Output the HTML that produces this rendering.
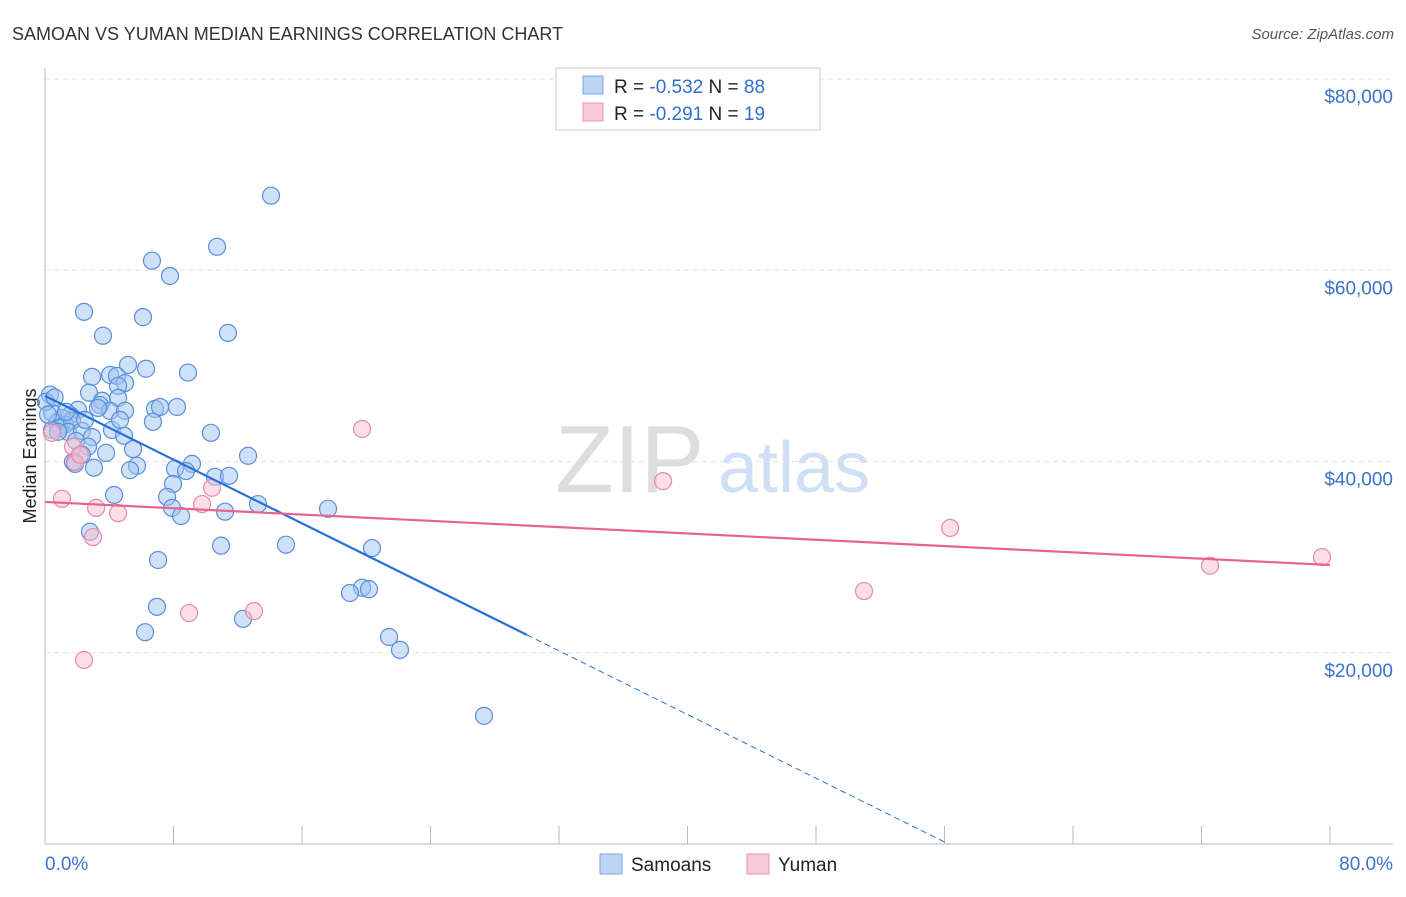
<!DOCTYPE html>
<html><head><meta charset="utf-8"><style>
body{margin:0;background:#fff;font-family:"Liberation Sans",sans-serif;}
svg text{font-family:"Liberation Sans",sans-serif;}
</style></head><body>
<svg id="c" width="1406" height="892" xmlns="http://www.w3.org/2000/svg">
<text x="12" y="40" font-size="18" fill="#333">SAMOAN VS YUMAN MEDIAN EARNINGS CORRELATION CHART</text>
<text x="1394" y="39" font-size="15" fill="#555" text-anchor="end" font-style="italic">Source: ZipAtlas.com</text>
<text x="36" y="456" font-size="18" fill="#222" text-anchor="middle" transform="rotate(-90 36 456)">Median Earnings</text>
<text x="555" y="492" font-size="96" fill="#ddd" font-family="Liberation Serif">ZIP</text>
<text x="718" y="492" font-size="72" fill="#cfe0f5">atlas</text>
<g id="grid"></g><g id="axes"></g><g id="pts"></g><g id="lines"></g>
<g>
<rect x="556" y="68" width="264" height="62" fill="#fff" stroke="#ccc"/>
<rect x="583" y="76" width="20" height="18" fill="#bcd5f5" stroke="#7aa6e6"/>
<rect x="583" y="103" width="20" height="18" fill="#f9c9d8" stroke="#eb94b0"/>
<text x="614" y="93" font-size="19" fill="#222">R = <tspan fill="#2f6fd1">-0.532</tspan>   N = <tspan fill="#2f6fd1">88</tspan></text>
<text x="614" y="120" font-size="19" fill="#222">R =  <tspan fill="#2f6fd1">-0.291</tspan>   N =  <tspan fill="#2f6fd1">19</tspan></text>
</g>
<g>
<rect x="600" y="854" width="22" height="20" fill="#bcd5f5" stroke="#7aa6e6"/>
<text x="631" y="871" font-size="19" fill="#222">Samoans</text>
<rect x="747" y="854" width="22" height="20" fill="#f9c9d8" stroke="#eb94b0"/>
<text x="778" y="871" font-size="19" fill="#222">Yuman</text>
</g>
</svg>
<script>
const blueX=[14.07,10.71,6.66,7.78,2.43,6.10,11.39,3.61,5.17,6.29,8.90,2.93,4.05,4.48,4.98,4.55,2.74,0.31,3.55,4.55,3.42,2.05,4.05,4.98,6.85,7.16,8.22,0.44,1.56,1.06,0.75,1.25,0.93,1.68,0.44,1.43,6.72,2.30,4.17,10.33,2.93,4.92,1.93,2.68,5.48,3.80,2.30,12.64,1.74,1.87,9.15,5.73,3.05,8.09,5.29,8.78,10.58,11.46,7.97,4.30,7.60,13.26,7.91,11.21,8.47,17.62,2.80,10.96,15.00,20.36,7.04,19.74,20.17,18.99,6.97,12.33,6.23,21.42,22.10,27.33,0.06,0.60,0.19,0.81,1.31,2.49,3.30,4.67];
const blueY=[67800,62450,61000,59400,55650,55100,53450,53150,50100,49700,49300,48850,49050,48950,48200,47900,47200,47000,46350,46650,45900,45400,45300,45300,45500,45700,45700,45100,44850,44550,44050,43850,43500,44250,43300,43100,44150,43200,43300,43000,42550,42700,42150,41550,41300,40900,40700,40600,39950,39750,39750,39550,39350,39250,39100,39000,38400,38500,37650,36500,36300,35550,35150,34750,34300,35050,32650,31200,31300,30950,29700,26800,26650,26250,24800,23550,22150,21650,20300,13400,46250,46700,44900,43100,45200,44350,45600,44350];
const pinkX=[0.44,1.74,1.87,1.06,3.18,4.55,2.99,2.43,8.97,13.01,9.78,10.40,2.18,19.74,38.48,56.35,50.99,72.53,79.5];
const pinkY=[43000,41550,39950,36100,35150,34600,32100,19250,24150,24350,35550,37250,40700,43400,37950,33050,26450,29100,30000];
const blueTrend=[46860,-833]; // intercept, slope per %
const pinkTrend=[35770,-82.4];
const yTicks=[20000,40000,60000,80000];
const yTickLabels=["$20,000","$40,000","$60,000","$80,000"];
const xTicks=[0,8,16,24,32,40,48,56,64,72,80];
const NS="http://www.w3.org/2000/svg";
const sx=v=>45+v*(1285/80);
const sy=v=>844-v*(765/80000);
function mk(tag,attrs,parent){const e=document.createElementNS(NS,tag);for(const k in attrs)e.setAttribute(k,attrs[k]);document.getElementById(parent).appendChild(e);return e;}
yTicks.forEach((t,i)=>{
 const g=mk('line',{x1:45,x2:1393,y1:sy(t),y2:sy(t),stroke:'#e3e3e3','stroke-dasharray':'5,4'},'grid');
 
 
 const l=mk('text',{x:1393,y:sy(t)+24,'font-size':19,fill:'#3b73c9','text-anchor':'end'},'grid');
 l.textContent=yTickLabels[i];
 
 
});
const ax=mk('line',{x1:45,x2:45,y1:68,y2:844,stroke:'#bbb'},'axes');


const bx=mk('line',{x1:45,x2:1393,y1:844,y2:844,stroke:'#bbb'},'axes');


xTicks.forEach(t=>{
 const k=mk('line',{x1:sx(t),x2:sx(t),y1:826,y2:844,stroke:'#bbb'},'axes');
 
 
});
const xl0=mk('text',{x:45,y:870,'font-size':19,fill:'#3b73c9'},'axes');xl0.textContent=xTicks[0].toFixed(1)+'%';


const xl1=mk('text',{x:1393,y:870,'font-size':19,fill:'#3b73c9','text-anchor':'end'},'axes');xl1.textContent=xTicks[xTicks.length-1].toFixed(1)+'%';


blueX.forEach((x,i)=>{
 const c=mk('circle',{cx:sx(x),cy:sy(blueY[i]),r:8.5,fill:'rgba(160,196,240,0.5)',stroke:'#5a8fdc','stroke-width':1.2},'pts');
 
 
});
pinkX.forEach((x,i)=>{
 const c=mk('circle',{cx:sx(x),cy:sy(pinkY[i]),r:8.5,fill:'rgba(248,190,210,0.5)',stroke:'#e98aa8','stroke-width':1.2},'pts');
 
 
});
const bmax=Math.max(...blueX);
const bEnd=blueTrend[0]+blueTrend[1]*30;
const zeroX=-blueTrend[0]/blueTrend[1];
const b1=mk('line',{x1:sx(0),y1:sy(blueTrend[0]),x2:sx(30),y2:sy(bEnd),stroke:'#2670d8','stroke-width':2.2},'lines');


const b2=mk('line',{x1:sx(30),y1:sy(bEnd),x2:sx(zeroX),y2:sy(0),stroke:'#2670d8','stroke-width':1,'stroke-dasharray':'6,4'},'lines');


const p1=mk('line',{x1:sx(0),y1:sy(pinkTrend[0]),x2:sx(80),y2:sy(pinkTrend[0]+pinkTrend[1]*80),stroke:'#e8628e','stroke-width':2.2},'lines');


</script>
</body></html>
